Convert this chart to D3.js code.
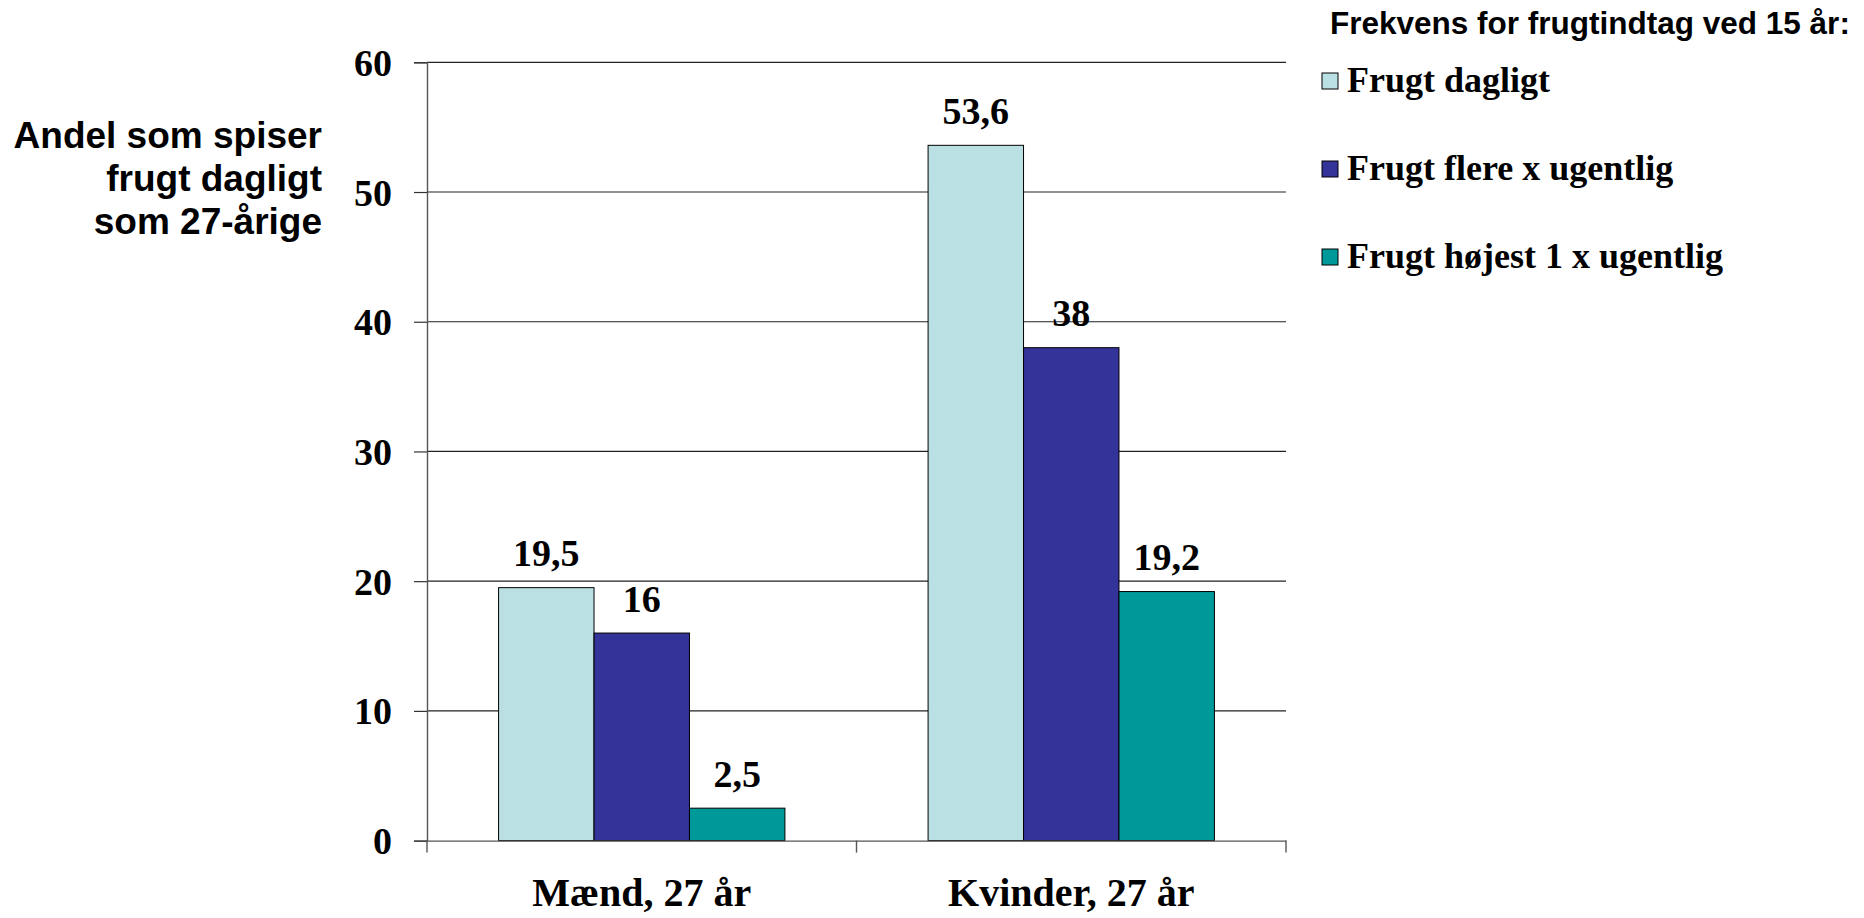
<!DOCTYPE html>
<html><head><meta charset="utf-8">
<script src="https://cdn.jsdelivr.net/npm/d3@7"></script>
<style>
html,body{margin:0;padding:0;background:#fff;}
svg{display:block;}
</style></head>
<body>
<svg id="chart" width="1864" height="918"></svg>
<script>
const categories = ["Mænd, 27 år", "Kvinder, 27 år"];
const seriesNames = ["Frugt dagligt", "Frugt flere x ugentlig", "Frugt højest 1 x ugentlig"];
const dagligt = [19.5, 53.6];
const flereUgentlig = [16, 38];
const hoejest1Ugentlig = [2.5, 19.2];
const seriesColors = ["#BBE0E3", "#333399", "#009999"];
const yTicks = [0, 10, 20, 30, 40, 50, 60];
const yTitleLines = ["Andel som spiser", "frugt dagligt", "som 27-årige"];
const legendTitle = "Frekvens for frugtindtag ved 15 år:";

const seriesValues = [dagligt, flereUgentlig, hoejest1Ugentlig];

const svg = d3.select("#chart");
const serif = "'Liberation Serif','Times New Roman',serif";
const sans = "'Liberation Sans',Arial,sans-serif";

const plot = {left: 427, right: 1286, top: 62.3, bottom: 840.6};

const x0 = d3.scaleBand().domain(categories).range([plot.left, plot.right]).padding(0);
const x1 = d3.scaleBand().domain(d3.range(seriesNames.length)).range([0, x0.bandwidth()]).paddingInner(0).paddingOuter(0.75);
const y = d3.scaleLinear().domain([0, 60]).range([plot.bottom, plot.top]);

// gridlines
svg.append("g").selectAll("line").data(yTicks.filter(t => t > 0)).join("line")
  .attr("x1", plot.left).attr("x2", plot.right)
  .attr("y1", d => y(d)).attr("y2", d => y(d))
  .attr("stroke", "#222").attr("stroke-width", 1.2);

// y axis
const yAxis = d3.axisLeft(y).tickValues(yTicks).tickSize(13).tickFormat(d3.format("d"));
const gy = svg.append("g").attr("transform", `translate(${plot.left},0)`).call(yAxis);
gy.select(".domain").attr("stroke", "#555").attr("stroke-width", 1.4);
gy.selectAll(".tick line").attr("stroke", "#333").attr("stroke-width", 1.2);
gy.selectAll(".tick text")
  .attr("x", -35).attr("dy", null).attr("y", 13)
  .attr("font-family", serif).attr("font-weight", "bold").attr("font-size", 38).attr("fill", "#000");

// bars
const groups = svg.append("g").selectAll("g").data(categories).join("g")
  .attr("transform", d => `translate(${x0(d)},0)`);
groups.selectAll("rect").data((c, ci) => seriesValues.map((s, si) => ({si, v: s[ci]}))).join("rect")
  .attr("x", d => x1(d.si)).attr("width", x1.bandwidth())
  .attr("y", d => y(d.v)).attr("height", d => y(0) - y(d.v))
  .attr("fill", d => seriesColors[d.si])
  .attr("stroke", "#000").attr("stroke-width", 1);

// data labels
const fmt = v => (Number.isInteger(v) ? String(v) : v.toFixed(1).replace(".", ","));
groups.selectAll("text").data((c, ci) => seriesValues.map((s, si) => ({si, v: s[ci]}))).join("text")
  .attr("x", d => x1(d.si) + x1.bandwidth() / 2)
  .attr("y", d => y(d.v) - 21.5)
  .attr("text-anchor", "middle")
  .attr("font-family", serif).attr("font-weight", "bold").attr("font-size", 38)
  .text(d => fmt(d.v));

// x axis
const xAxis = d3.axisBottom(x0).tickSize(0).tickFormat("");
const gx = svg.append("g").attr("transform", `translate(0,${plot.bottom})`).call(xAxis);
gx.select(".domain").attr("stroke", "#555").attr("stroke-width", 1.4);
const boundaries = [plot.left, ...categories.map(c => x0(c) + x0.bandwidth())];
gx.selectAll(".bnd").data(boundaries).join("line").attr("class", "bnd")
  .attr("x1", d => d).attr("x2", d => d).attr("y1", 0).attr("y2", 12)
  .attr("stroke", "#555").attr("stroke-width", 1.4);
svg.append("g").selectAll("text").data(categories).join("text")
  .attr("x", d => x0(d) + x0.bandwidth() / 2)
  .attr("y", 906)
  .attr("text-anchor", "middle")
  .attr("font-family", serif).attr("font-weight", "bold").attr("font-size", 40)
  .text(d => d);

// y title
svg.append("text")
  .attr("text-anchor", "end")
  .attr("font-family", sans).attr("font-weight", "bold").attr("font-size", 37)
  .selectAll("tspan").data(yTitleLines).join("tspan")
  .attr("x", 322).attr("y", (d, i) => 148 + i * 43)
  .text(d => d);

// legend
svg.append("text")
  .attr("x", 1330).attr("y", 34)
  .attr("font-family", sans).attr("font-weight", "bold").attr("font-size", 31.5)
  .text(legendTitle);
const leg = svg.append("g").selectAll("g").data(seriesNames).join("g")
  .attr("transform", (d, i) => `translate(1322,${73 + i * 88})`);
leg.append("rect").attr("width", 16).attr("height", 16)
  .attr("fill", (d, i) => seriesColors[i]).attr("stroke", "#000").attr("stroke-width", 1);
leg.append("text").attr("x", 25).attr("y", 19)
  .attr("font-family", serif).attr("font-weight", "bold").attr("font-size", 36)
  .text(d => d);
</script>
</body></html>
